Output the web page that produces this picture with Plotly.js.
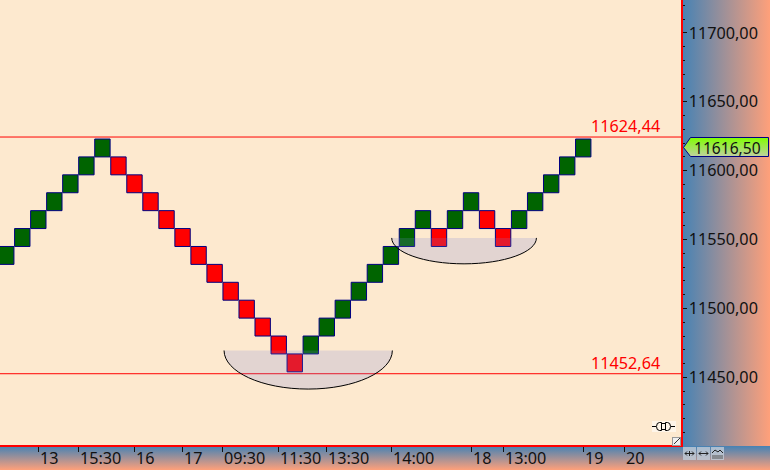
<!DOCTYPE html>
<html>
<head>
<meta charset="utf-8">
<script src="https://cdn.plot.ly/plotly-3.0.1.min.js"></script>
<style>
html,body{margin:0;padding:0;width:770px;height:470px;overflow:hidden;background:#fff}
#rightPanel{position:absolute;left:0;top:0;width:770px;height:446px;background:linear-gradient(to right,#4682b4,#ffa07a);background-size:88px 100%;background-position:682px 0;background-repeat:no-repeat}
#bottomPanel{position:absolute;left:0;top:446px;width:770px;height:24px;background:linear-gradient(to bottom,#4682b4,#ffa07a)}
#chart{position:absolute;left:0;top:0;width:770px;height:470px}
#deco{position:absolute;left:0;top:0;pointer-events:none}
</style>
</head>
<body>
<div id="rightPanel"></div>
<div id="bottomPanel"></div>
<svg id="tagLayer" style="position:absolute;left:0;top:0" width="770" height="470">
<defs><linearGradient id="tg" x1="0" y1="0" x2="0" y2="1"><stop offset="0" stop-color="#7fff00"/><stop offset="1" stop-color="#c0d0a0"/></linearGradient></defs>
<polygon points="683.5,147.5 690.5,137.5 768.5,137.5 768.5,156.5 690.5,156.5" fill="url(#tg)" stroke="#000080" stroke-width="1"/>
</svg>
<div id="chart"></div>
<svg id="deco" width="770" height="470">
<rect x="652" y="421" width="24" height="11" fill="#fff" opacity=".55"/>
<g fill="none" stroke="#000" stroke-width="1">
<path d="M652 426.5H656M661 423.5H665M661 429.5H665M671 426.5H675" shape-rendering="crispEdges"/>
<path d="M661.5 422.5H659.5Q656.5 422.5 656.5 426.5Q656.5 430.5 659.5 430.5H661.5V422.5"/>
<path d="M665.5 422.5H667.5Q670.5 422.5 670.5 426.5Q670.5 430.5 667.5 430.5H665.5V422.5"/>
</g>
<rect x="672.5" y="437.5" width="8" height="8" fill="#f0f0f0" stroke="#999"/>
<path d="M674 444L680 438" stroke="#333" fill="none"/>
<g>
<rect x="683" y="447" width="13" height="13" fill="#c0ccd8" opacity=".8"/>
<rect x="697" y="447" width="13" height="13" fill="#c0ccd8" opacity=".8"/>
<rect x="711" y="447" width="13" height="13" fill="#c0ccd8" opacity=".8"/>
<path d="M685 453.5H694M687 451.5L685 453.5L687 455.5M692 451.5L694 453.5L692 455.5M689.5 451V456" stroke="#222" fill="none"/>
<path d="M699 453.5H708M701 451.5L699 453.5L701 455.5M706 451.5L708 453.5L706 455.5" stroke="#222" fill="none"/>
<path d="M712 453L715 450L718 452L720 450L723 453" stroke="#222" fill="none"/>
<path d="M712 456H723M712 458H723" stroke="#555" fill="none"/>
</g>
</svg>
<script>
// Renko bricks: top price of each brick and its direction
var brickHigh = [11545,11558,11571,11584,11597,11610,11623,11610,11597,11584,11571,11558,11545,11532,11519,11506,11493,11480,11467,11480,11493,11506,11519,11532,11545,11558,11571,11558,11571,11584,11571,11558,11571,11584,11597,11610,11623];
var brickUp = [1,1,1,1,1,1,1,0,0,0,0,0,0,0,0,0,0,0,0,1,1,1,1,1,1,1,1,0,1,1,0,0,1,1,1,1,1];
var brickSize = 13;
var lastPrice = 11616.50;
var levels = [11624.44, 11452.64];
var xTickPos = [2,4.5,8,11,13.5,17,20,24.05,29.05,31,36,38.55];
var xTickText = ["13","15:30","16","17","09:30","11:30","13:30","14:00","18","13:00","19","20"];
// half-ellipse highlights: [left, right, flat top price, lowest price]
var arcs = [[13.59,24.09,11469.5,11441.5],[24.05,33.08,11551.2,11532.4]];

var font = '"Noto Sans", sans-serif';
var fs = 16.2;
function fmt(v){return v.toFixed(2).replace('.',',');}
var idx = brickHigh.map(function(_,i){return i;});

var trace = {
  type:'bar', x:idx,
  y:brickHigh.map(function(){return brickSize;}),
  base:brickHigh.map(function(h){return h-brickSize;}),
  width:0.96,
  marker:{color:brickUp.map(function(u){return u?'#006400':'#ff0000';}),line:{color:'#000080',width:1}},
  hoverinfo:'skip'
};

var shapes = levels.map(function(l){
  return {type:'line',xref:'paper',x0:0,x1:1,yref:'y',y0:l,y1:l,line:{color:'#ff0000',width:1}};
});
var k=0.5523;
arcs.forEach(function(a){
  var l=a[0],r=a[1],t=a[2],b=a[3],c=(l+r)/2,rx=(r-l)/2,ry=t-b;
  var curve='M'+l+','+t+' C'+l+','+(t-k*ry)+' '+(c-k*rx)+','+b+' '+c+','+b+' C'+(c+k*rx)+','+b+' '+r+','+(t-k*ry)+' '+r+','+t;
  shapes.push({type:'path',layer:'above',xref:'x',yref:'y',path:curve+' Z',fillcolor:'rgba(118,128,218,0.2)',line:{width:0}});
  shapes.push({type:'path',layer:'above',xref:'x',yref:'y',path:curve,line:{color:'#000',width:1}});
});

var annotations = levels.map(function(l){
  return {xref:'x',yref:'y',x:38.65,y:l,text:fmt(l),showarrow:false,xanchor:'center',yanchor:'bottom',yshift:-2,font:{family:font,size:fs,color:'#ff0000'}};
});
annotations.push({xref:'paper',yref:'y',x:1,xanchor:'left',xshift:11,y:lastPrice,text:fmt(lastPrice),showarrow:false,font:{family:font,size:15.6,color:'#111'}});
xTickPos.forEach(function(p,i){
  annotations.push({xref:'x',yref:'paper',x:p,y:0,yanchor:'top',xanchor:'left',xshift:1.5,yshift:-2,borderpad:0,borderwidth:0,text:xTickText[i],showarrow:false,font:{family:font,size:fs,color:'#111'}});
});

var layout = {
  width:770,height:470,margin:{l:0,r:88.5,t:0,b:24.5,pad:0},
  paper_bgcolor:'rgba(0,0,0,0)',plot_bgcolor:'#fde9cf',
  showlegend:false,separators:',.',bargap:0,
  font:{family:font,size:fs,color:'#111'},
  xaxis:{range:[-0.39,42.1],showgrid:false,zeroline:false,showline:true,linecolor:'#ff0000',linewidth:1.5,
    tickmode:'array',tickvals:xTickPos,ticktext:xTickPos.map(function(){return '';}),ticks:'outside',ticklen:5,tickcolor:'#111',tickwidth:1},
  yaxis:{side:'right',range:[11400.9,11723.9],showgrid:false,zeroline:false,showline:true,linecolor:'#ff0000',linewidth:1.5,
    tickmode:'linear',tick0:0,dtick:50,tickformat:'.2f',ticks:'outside',ticklen:4,tickcolor:'#111',tickwidth:1,ticklabelstandoff:-1,
    minor:{dtick:10,ticks:'outside',ticklen:2.5,tickcolor:'#111',tickwidth:1,showgrid:false},
    tickfont:{family:font,size:fs,color:'#111'}},
  shapes:shapes,annotations:annotations
};
Plotly.newPlot('chart',[trace],layout,{displayModeBar:false,staticPlot:true});
</script>
</body>
</html>
